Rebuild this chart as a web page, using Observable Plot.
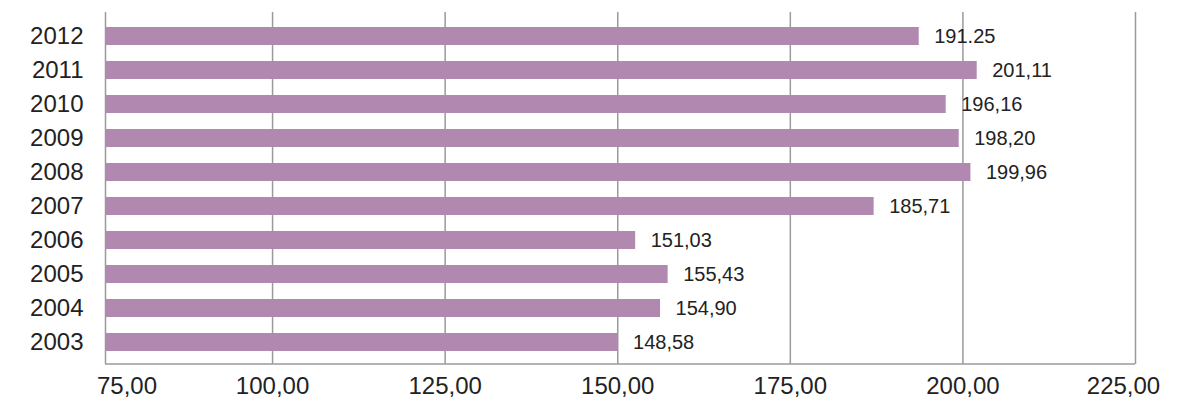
<!DOCTYPE html>
<html>
<head>
<meta charset="utf-8">
<script src="https://cdn.jsdelivr.net/npm/d3@7"></script>
<script src="https://cdn.jsdelivr.net/npm/@observablehq/plot@0.6"></script>
<style>
  html, body { margin: 0; padding: 0; background: #fff; }
  #chart svg { display: block; }
</style>
</head>
<body>
<div id="chart"></div>
<script>
// Data
const years = ["2012","2011","2010","2009","2008","2007","2006","2005","2004","2003"];
const barValues = [193.67, 202.07, 197.58, 199.46, 201.16, 187.14, 152.6, 157.3, 156.2, 150.04];
const valueLabels = ["191.25","201,11","196,16","198,20","199,96","185,71","151,03","155,43","154,90","148,58"];
const xTicks = [75, 100, 125, 150, 175, 200, 225];
const xTickLabels = ["75,00","100,00","125,00","150,00","175,00","200,00","225,00"];
const xMin = 75.8, xMax = 225;

const rows = years.map((y, i) => ({year: y, value: barValues[i], label: valueLabels[i]}));
const tickRows = xTicks.map((t, i) => ({t, label: xTickLabels[i]}));
const midTicks = tickRows.slice(1, -1);
const font = "'Helvetica Neue', 'Liberation Sans', Arial, sans-serif";
const grid = "#9a9a9a";
const textColor = "#222";

const chart = Plot.plot({
  width: 1201,
  height: 403,
  marginLeft: 105,
  marginRight: 66,
  marginTop: 12,
  marginBottom: 39,
  style: {fontFamily: font, background: "#fff", overflow: "visible"},
  x: {domain: [xMin, xMax], axis: null},
  y: {domain: years, paddingInner: 0.475, paddingOuter: 0.4, insetBottom: -2.5, label: null},
  marks: [
    Plot.ruleX(xTicks.slice(1).concat([xMin]), {stroke: grid, strokeWidth: 1.5, y1: null, y2: null}),
    Plot.barX(rows, {y: "year", x1: () => xMin, x2: "value", fill: "#b189b0"}),
    Plot.text(rows, {y: "year", x: "value", text: "label", textAnchor: "start", dx: 15, fontSize: 20, fill: textColor}),
    Plot.axisY({tickSize: 0, tickPadding: 22, fontSize: 24, fill: textColor, label: null}),
    Plot.text(midTicks, {x: "t", text: "label", frameAnchor: "bottom", dy: 29, fontSize: 24, fill: textColor}),
    Plot.text(tickRows.slice(0, 1), {x: "t", text: "label", frameAnchor: "bottom", dy: 29, dx: 27, fontSize: 24, fill: textColor}),
    Plot.text(tickRows.slice(-1), {x: "t", text: "label", frameAnchor: "bottom", dy: 29, dx: -12, fontSize: 24, fill: textColor})
  ]
});

// axis lines drawn from the chart's own x scale
const sx = chart.scale("x");
const svg = d3.select(chart);
svg.append("line")
  .attr("x1", sx.apply(xMin)).attr("x2", sx.apply(xMax))
  .attr("y1", 403 - 39).attr("y2", 403 - 39)
  .attr("stroke", grid).attr("stroke-width", 1.5);

document.getElementById("chart").appendChild(chart);
</script>
</body>
</html>
